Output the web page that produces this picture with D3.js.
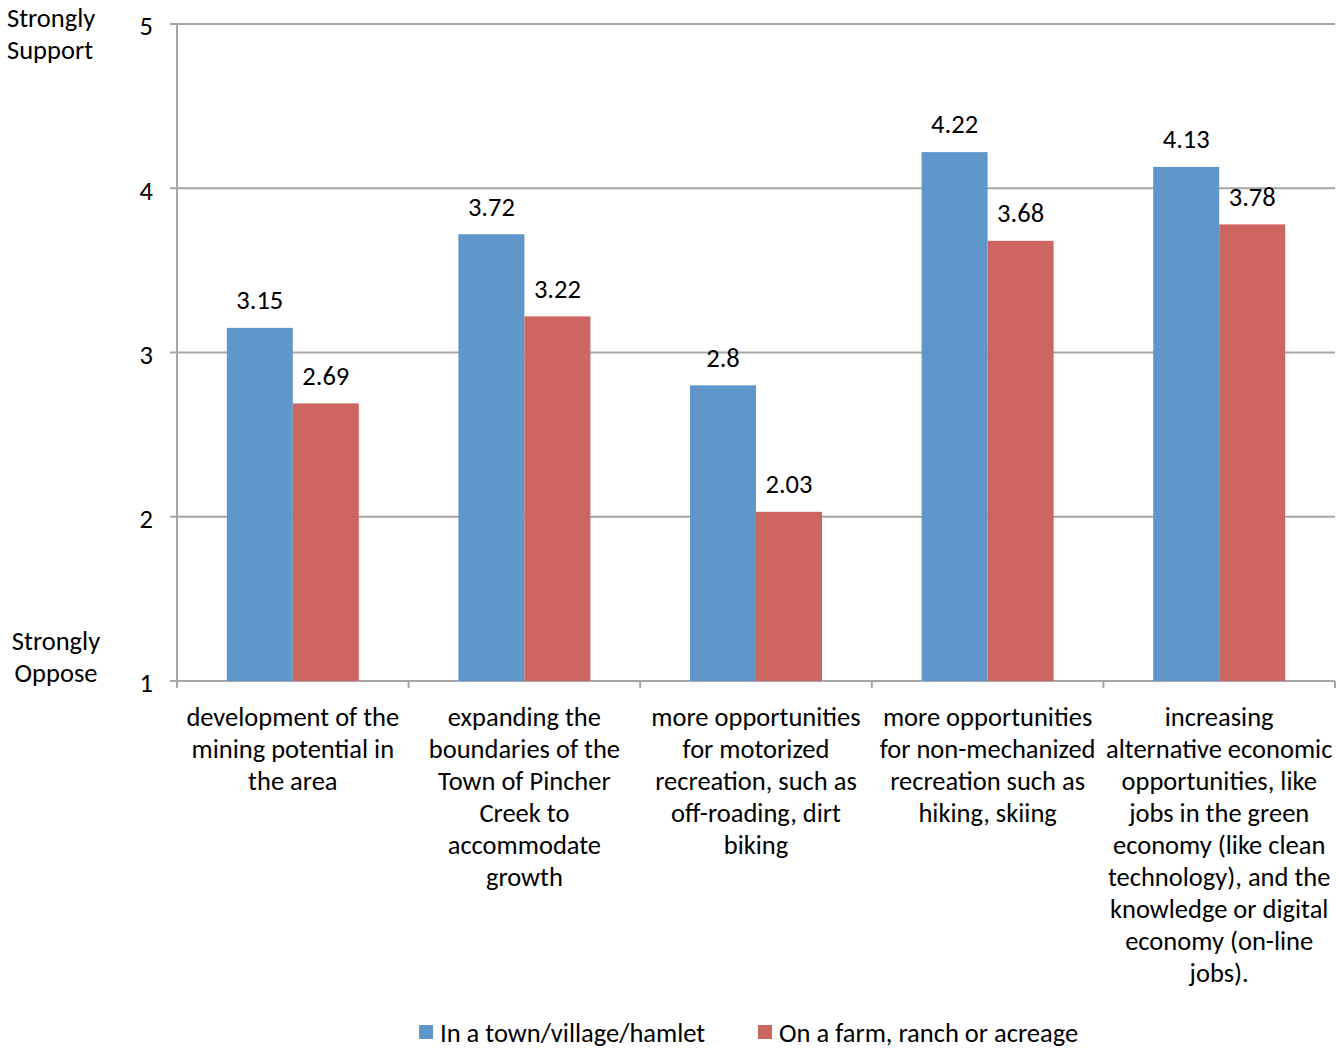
<!DOCTYPE html>
<html>
<head>
<meta charset="utf-8">
<script src="https://cdn.jsdelivr.net/npm/d3@7"></script>
<style>
  body { margin: 0; background: #fff; }
  svg { font-family: Carlito, Lato, 'Open Sans', sans-serif; }
</style>
</head>
<body>
<div id="chart"></div>
<script>
const categories = [
  'development of the\nmining potential in\nthe area',
  'expanding the\nboundaries of the\nTown of Pincher\nCreek to\naccommodate\ngrowth',
  'more opportunities\nfor motorized\nrecreation, such as\noff-roading, dirt\nbiking',
  'more opportunities\nfor non-mechanized\nrecreation such as\nhiking, skiing',
  'increasing\nalternative economic\nopportunities, like\njobs in the green\neconomy (like clean\ntechnology), and the\nknowledge or digital\neconomy (on-line\njobs).'
]
const seriesNames = ['In a town/village/hamlet', 'On a farm, ranch or acreage']
const townValues = [3.15, 3.72, 2.8, 4.22, 4.13]
const farmValues = [2.69, 3.22, 2.03, 3.68, 3.78]
const yTicks = [1, 2, 3, 4, 5]

const colors = ['#6097ca', '#cd6660']
const fontSize = 26.5

const margin = { top: 24, left: 177, right: 2, bottom: 367 }
const width = 1337 - margin.left - margin.right
const height = 1048 - margin.top - margin.bottom

const svg = d3
  .select('#chart')
  .append('svg')
  .attr('width', 1337)
  .attr('height', 1048)
  .append('g')
  .attr('transform', 'translate(' + margin.left + ',' + margin.top + ')')

const xPositionScale = d3.scaleBand().domain(d3.range(categories.length)).range([0, width])
const yPositionScale = d3.scaleLinear().domain([1, 5]).range([height, 0])
const barWidth = 66
const gap = (xPositionScale.bandwidth() - 2 * barWidth) / 2

// gridlines
svg
  .selectAll('.grid')
  .data(yTicks)
  .enter()
  .append('line')
  .attr('x1', -7)
  .attr('x2', width)
  .attr('y1', d => yPositionScale(d))
  .attr('y2', d => yPositionScale(d))
  .attr('stroke', '#a6a6a6')
  .attr('stroke-width', 2)

svg
  .append('line')
  .attr('x1', 0)
  .attr('x2', 0)
  .attr('y1', 0)
  .attr('y2', height)
  .attr('stroke', '#a6a6a6')
  .attr('stroke-width', 2)

// x ticks
svg
  .selectAll('.xtick')
  .data(d3.range(categories.length + 1))
  .enter()
  .append('line')
  .attr('x1', d => d * xPositionScale.step())
  .attr('x2', d => d * xPositionScale.step())
  .attr('y1', height)
  .attr('y2', height + 7)
  .attr('stroke', '#a6a6a6')
  .attr('stroke-width', 2)

svg
  .selectAll('.ylabel')
  .data(yTicks)
  .enter()
  .append('text')
  .attr('x', -24)
  .attr('y', d => yPositionScale(d) + 2)
  .attr('dy', '0.35em')
  .attr('text-anchor', 'end')
  .attr('font-size', fontSize)
  .text(d => d)

// end labels on y axis
const endLabels = [
  { lines: ['Strongly', 'Support'], y: 18, x: 7, anchor: 'start' },
  { lines: ['Strongly', 'Oppose'], y: 641, x: 56, anchor: 'middle' }
]
endLabels.forEach(lab => {
  const t = svg
    .append('text')
    .attr('text-anchor', lab.anchor)
    .attr('font-size', fontSize)
  lab.lines.forEach((line, i) => {
    t.append('tspan')
      .attr('x', lab.x - margin.left)
      .attr('y', lab.y - margin.top + i * 32)
      .attr('dy', '0.35em')
      .text(line)
  })
})

const groups = svg
  .selectAll('.group')
  .data(categories)
  .enter()
  .append('g')
  .attr('transform', (d, i) => 'translate(' + xPositionScale(i) + ',0)')

const allSeries = [townValues, farmValues]
allSeries.forEach((values, s) => {
  groups
    .append('rect')
    .attr('x', gap + s * barWidth)
    .attr('width', barWidth)
    .attr('y', (d, i) => yPositionScale(values[i]))
    .attr('height', (d, i) => height - yPositionScale(values[i]))
    .attr('fill', colors[s])

  groups
    .append('text')
    .attr('x', gap + s * barWidth + barWidth / 2)
    .attr('y', (d, i) => yPositionScale(values[i]) - 28)
    .attr('dy', '0.35em')
    .attr('text-anchor', 'middle')
    .attr('font-size', fontSize)
    .text((d, i) => values[i])
})

// category labels
groups.each(function(d) {
  const t = d3
    .select(this)
    .append('text')
    .attr('text-anchor', 'middle')
    .attr('font-size', fontSize)
  d.split('\n').forEach((line, i) => {
    t.append('tspan')
      .attr('x', xPositionScale.bandwidth() / 2)
      .attr('y', height + 36 + i * 32)
      .attr('dy', '0.35em')
      .text(line)
  })
})

// legend
const legendX = [419, 758]
const legend = svg
  .selectAll('.legend')
  .data(seriesNames)
  .enter()
  .append('g')
  .attr('transform', (d, i) => 'translate(' + (legendX[i] - margin.left) + ',' + (1025 - margin.top) + ')')

legend
  .append('rect')
  .attr('width', 14)
  .attr('height', 14)
  .attr('fill', (d, i) => colors[i])

legend
  .append('text')
  .attr('x', 21)
  .attr('y', 8)
  .attr('dy', '0.35em')
  .attr('font-size', fontSize)
  .text(d => d)
</script>
</body>
</html>
